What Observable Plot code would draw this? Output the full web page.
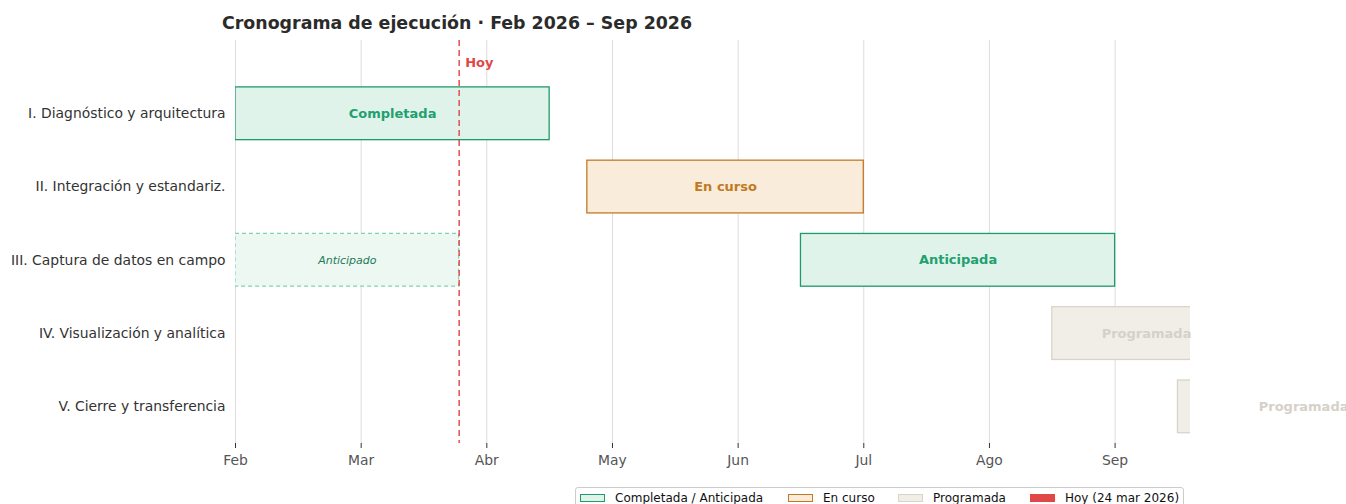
<!DOCTYPE html>
<html>
<head>
<meta charset="utf-8">
<script src="https://cdn.jsdelivr.net/npm/d3@7"></script>
<script src="https://cdn.jsdelivr.net/npm/@observablehq/plot@0.6"></script>
<style>
  body { margin: 0; background: #fff; font-family: "DejaVu Sans", sans-serif; }
  #wrap { position: relative; width: 1346px; height: 504px; overflow: hidden; }
  #title { position: absolute; left: 222px; top: 13px; font-size: 17.4px; font-weight: bold; color: #2b2b2b; white-space: nowrap; }
  #chart { position: absolute; left: 0; top: 40px; }
  #legend { position: absolute; left: 575px; top: 487px; width: 607px; height: 24px; border: 1px solid #cccccc; border-radius: 3px; background: #fff; font-size: 12px; color: #111; }
  .item { position: absolute; top: 3px; white-space: nowrap; line-height: 14px; }
  .sw { display: inline-block; width: 25px; height: 8px; vertical-align: 0px; margin-right: 10px; box-sizing: border-box; }
</style>
</head>
<body>
<div id="wrap">
  <div id="title">Cronograma de ejecución · Feb 2026 – Sep 2026</div>
  <div id="chart"></div>
  <div id="legend"></div>
</div>
<script>
// ---- data ----
const phases = [
  "I. Diagnóstico y arquitectura",
  "II. Integración y estandariz.",
  "III. Captura de datos en campo",
  "IV. Visualización y analítica",
  "V. Cierre y transferencia"
];
// months as numbers: 2 = Feb, 3 = Mar, ...
const phaseStart = [2.0, 4.8, 6.5, 8.5, 9.5];
const phaseEnd   = [4.5, 7.0, 9.0, 10.0, 11.5];
const phaseStatus = ["Completada", "En curso", "Anticipada", "Programada", "Programada"];
const anticipatedRow = 2;
const anticipatedStart = 2.0;
const anticipatedEnd = 3.78;
const anticipatedLabel = "Anticipado";
const today = 3.78;
const todayLabel = "Hoy";
const monthTicks = [2, 3, 4, 5, 6, 7, 8, 9];
const monthLabels = ["Feb", "Mar", "Abr", "May", "Jun", "Jul", "Ago", "Sep"];
const legendLabels = ["Completada / Anticipada", "En curso", "Programada", "Hoy (24 mar 2026)"];

// ---- styles ----
const statusStyle = {
  "Completada": {fill: "#e0f3eb", stroke: "#1f9a6b", text: "#22a06f"},
  "Anticipada": {fill: "#e0f3eb", stroke: "#1f9a6b", text: "#22a06f"},
  "En curso":   {fill: "#f9ecdb", stroke: "#c27a22", text: "#c27a22"},
  "Programada": {fill: "#f1eee7", stroke: "#d9d4ca", text: "#d6d1c8"}
};
const half = 0.36;

const bars = phases.map((p, i) => ({
  i, x1: phaseStart[i], x2: phaseEnd[i], y1: i - half, y2: i + half,
  status: phaseStatus[i], mid: (phaseStart[i] + phaseEnd[i]) / 2
}));
const ant = [{x1: anticipatedStart, x2: anticipatedEnd, y1: anticipatedRow - half, y2: anticipatedRow + half,
  mid: (anticipatedStart + anticipatedEnd) / 2, y: anticipatedRow, label: anticipatedLabel}];

const plot = Plot.plot({
  width: 1346,
  height: 447,
  marginLeft: 235,
  marginRight: 156,
  marginTop: 0,
  marginBottom: 44,
  style: {fontFamily: "DejaVu Sans, sans-serif", fontSize: "13px", background: "transparent"},
  x: {domain: [2, 9.6]},
  y: {domain: [4.5, -1]},
  marks: [
    Plot.gridX(monthTicks, {x: d => d, stroke: "#dddddd", strokeOpacity: 1, strokeWidth: 1}),
    Plot.axisX(monthTicks, {x: d => d, tickFormat: d => monthLabels[d - 2], tickSize: 5, tickPadding: 7,
      stroke: "#333", fill: "#555", fontSize: 13.9}),
    Plot.axisY([0, 1, 2, 3, 4], {y: d => d, tickFormat: d => phases[d], tickSize: 0, tickPadding: 10,
      fill: "#333", fontSize: 13.9}),
    Plot.rect(ant, {x1: "x1", x2: "x2", y1: "y1", y2: "y2", fill: "#eef8f3", stroke: "#7fd1b2",
      strokeWidth: 1.2, strokeDasharray: "4,3", clip: true}),
    Plot.rect(bars, {x1: "x1", x2: "x2", y1: "y1", y2: "y2",
      fill: d => statusStyle[d.status].fill, stroke: d => statusStyle[d.status].stroke,
      strokeWidth: 1.3, clip: true}),
    Plot.text(ant, {x: "mid", y: "y", text: "label", fill: "#1e7a57", fontStyle: "italic", fontSize: 11}),
    Plot.text(bars, {x: "mid", y: "i", text: "status", fill: d => statusStyle[d.status].text,
      fontWeight: "bold", fontSize: 13}),
    Plot.ruleX([today], {x: d => d, stroke: "#e04848", strokeOpacity: 0.9, strokeWidth: 1.6, strokeDasharray: "6,4"}),
    Plot.text([today], {x: d => d, y: -0.7, text: () => todayLabel, dx: 6, textAnchor: "start",
      fill: "#e04848", fontWeight: "bold", fontSize: 13})
  ]
});
document.getElementById("chart").appendChild(plot);

// legend
const legendSw = [
  {left: 4, bg: "#e0f3eb", border: "1.3px solid #1f9a6b"},
  {left: 212, bg: "#f9ecdb", border: "1.3px solid #c27a22"},
  {left: 322, bg: "#f1eee7", border: "1.3px solid #d9d4ca"},
  {left: 454, bg: "#e04848", border: "none"}
];
const lg = document.getElementById("legend");
legendLabels.forEach((t, k) => {
  const it = document.createElement("div");
  it.className = "item";
  it.style.left = legendSw[k].left + "px";
  const sw = document.createElement("span");
  sw.className = "sw";
  sw.style.background = legendSw[k].bg;
  sw.style.border = legendSw[k].border;
  it.appendChild(sw);
  it.appendChild(document.createTextNode(t));
  lg.appendChild(it);
});
</script>
</body>
</html>
